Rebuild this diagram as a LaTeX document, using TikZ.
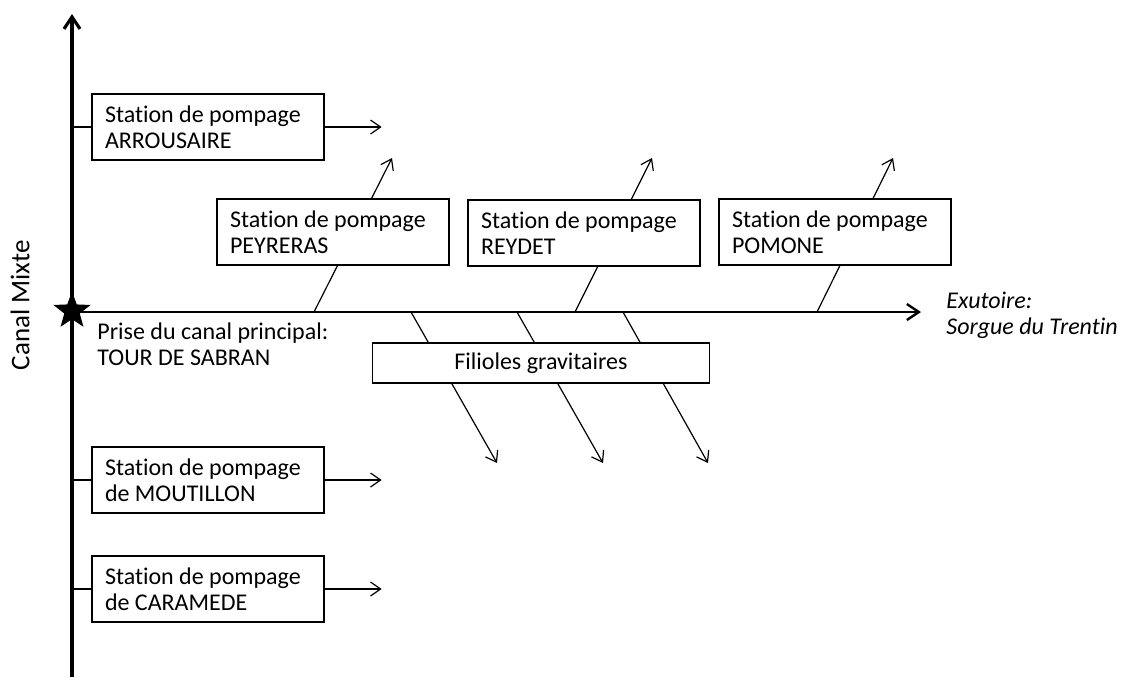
\documentclass[tikz,border=0pt]{standalone}
\usepackage{fontspec}
\setmainfont{Carlito}[Ligatures=NoCommon]
\usetikzlibrary{arrows.meta,shapes.geometric}
\tikzset{
  station/.style={draw,fill=white,line width=0.6pt,minimum width=116pt,minimum height=33pt,
    text width=103pt,align=flush left,inner xsep=6.5pt,font=\fontsize{12}{13}\selectfont},
  branch/.style={line width=0.6pt,-{Straight Barb[length=5pt,width=7pt]}},
  axis/.style={-{Straight Barb[length=6pt,width=8pt]}},
  label/.style={align=left,inner sep=0pt,anchor=north west,font=\fontsize{12}{13}\selectfont},
}
\begin{document}
\begin{tikzpicture}[x=0.5pt,y=-0.5pt]
  \useasboundingbox (0,0) rectangle (1125,677);
  \coordinate (o) at (72,312);
  \coordinate (top) at (72,14);
  \coordinate (bot) at (72,677);
  \coordinate (exu) at (921,312);
  \draw[axis,line width=1.6pt] (bot) -- (top);
  \draw[axis,line width=1.2pt] (o) -- (exu);
  \foreach \i/\a/\b in {1/314/392,2/575/652,3/817/893}{
    \coordinate (up\i) at (\a,312);
    \coordinate (upend\i) at (\b,158);
    \draw[branch] (up\i) -- (upend\i);
  }
  \foreach \i/\a/\b in {1/411/497,2/517/603,3/623/708}{
    \coordinate (dn\i) at (\a,312);
    \coordinate (dnend\i) at (\b,463);
    \draw[branch] (dn\i) -- (dnend\i);
  }
  \node[station] (arrou) at (208,127) {Station de pompage\\ARROUSAIRE};
  \node[station] (peyr) at (333,232) {Station de pompage\\PEYRERAS};
  \node[station] (reyd) at (584,233) {Station de pompage\\REYDET};
  \node[station] (pomo) at (835,232) {Station de pompage\\POMONE};
  \node[station] (mout) at (208,480) {Station de pompage\\de MOUTILLON};
  \node[station] (cara) at (208,589) {Station de pompage\\de CARAMEDE};
  \node[draw,fill=white,line width=0.6pt,minimum width=168.5pt,minimum height=20pt,
    font=\fontsize{12}{13}\selectfont] (fili) at (541,363) {Filioles gravitaires};
  \foreach \n in {arrou,mout,cara}{
    \draw[line width=0.6pt] (\n.west -| o) -- (\n.west);
    \draw[branch] (\n.east) -- ++(57,0);
  }
  \node[star,star points=5,star point ratio=2.4,fill=black,minimum size=19.5pt,inner sep=0pt] (star) at (72,311) {};
  \node[label] (prise) at (97,322) {Prise du canal principal:\\TOUR DE SABRAN};
  \node[label,font=\fontsize{12}{13}\selectfont\itshape] (exut) at (946,292) {Exutoire:\\Sorgue du Trentin};
  \node[rotate=90,font=\fontsize{13.5}{15}\selectfont] (canal) at (20,305) {Canal Mixte};
\end{tikzpicture}
\end{document}
